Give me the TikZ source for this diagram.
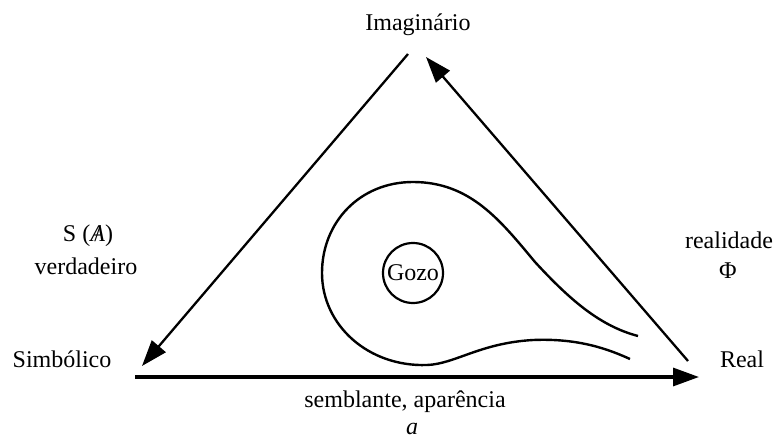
\documentclass[tikz,border=0pt]{standalone}
\usepackage{fontspec}
\setmainfont{Liberation Serif}
\usetikzlibrary{arrows.meta}
\begin{document}
\begin{tikzpicture}[x=1pt,y=-1pt,
  lbl/.style={font=\fontsize{24}{28}\selectfont, inner sep=0pt, align=center},
  edge/.style={line width=2.3pt},
  bigtip/.style={-{Triangle[length=26pt,width=18pt]}},
  curve/.style={line width=2.4pt}]
\useasboundingbox (0,0) rectangle (778,441);
\node[lbl] (imag) at (418,25) {Imaginário};
\node[lbl] (simb) at (62,359) {Simbólico};
\node[lbl] (real) at (742,359) {Real};
\node[lbl] (sa) at (88,236) {S (\ooalign{\textit{A}\cr\hidewidth/\hidewidth\cr})};
\node[lbl] (verd) at (86,266) {verdadeiro};
\node[lbl] (reald) at (729,240) {realidade};
\node[lbl] (phi) at (728,271) {Φ};
\node[lbl] (sembl) at (405,402) {semblante, aparência};
\node[lbl] (a) at (412,429) {\textit{a}};
\coordinate (apexL) at (408,54);
\coordinate (tipL) at (142,366);
\coordinate (baseR) at (688,361);
\coordinate (tipR) at (426,57);
\coordinate (botL) at (135,377);
\coordinate (botR) at (699,377);
\draw[edge,bigtip] (apexL) -- (tipL);
\draw[edge,bigtip] (baseR) -- (tipR);
\draw[line width=3.2pt,bigtip] (botL) -- (botR);
\node[lbl, draw, circle, line width=2.2pt, minimum size=60pt] (gozo) at (413,273) {Gozo};
\draw[curve] (638,336) .. controls (600,326) and (570,300) .. (535,262)
  .. controls (500,220) and (470,182) .. (413,182)
  .. controls (360,182) and (322,222) .. (322,273)
  .. controls (322,325) and (368,367) .. (427,365)
  .. controls (455,364) and (480,343) .. (533,340)
  .. controls (580,338) and (610,350) .. (630,359);
\end{tikzpicture}
\end{document}
